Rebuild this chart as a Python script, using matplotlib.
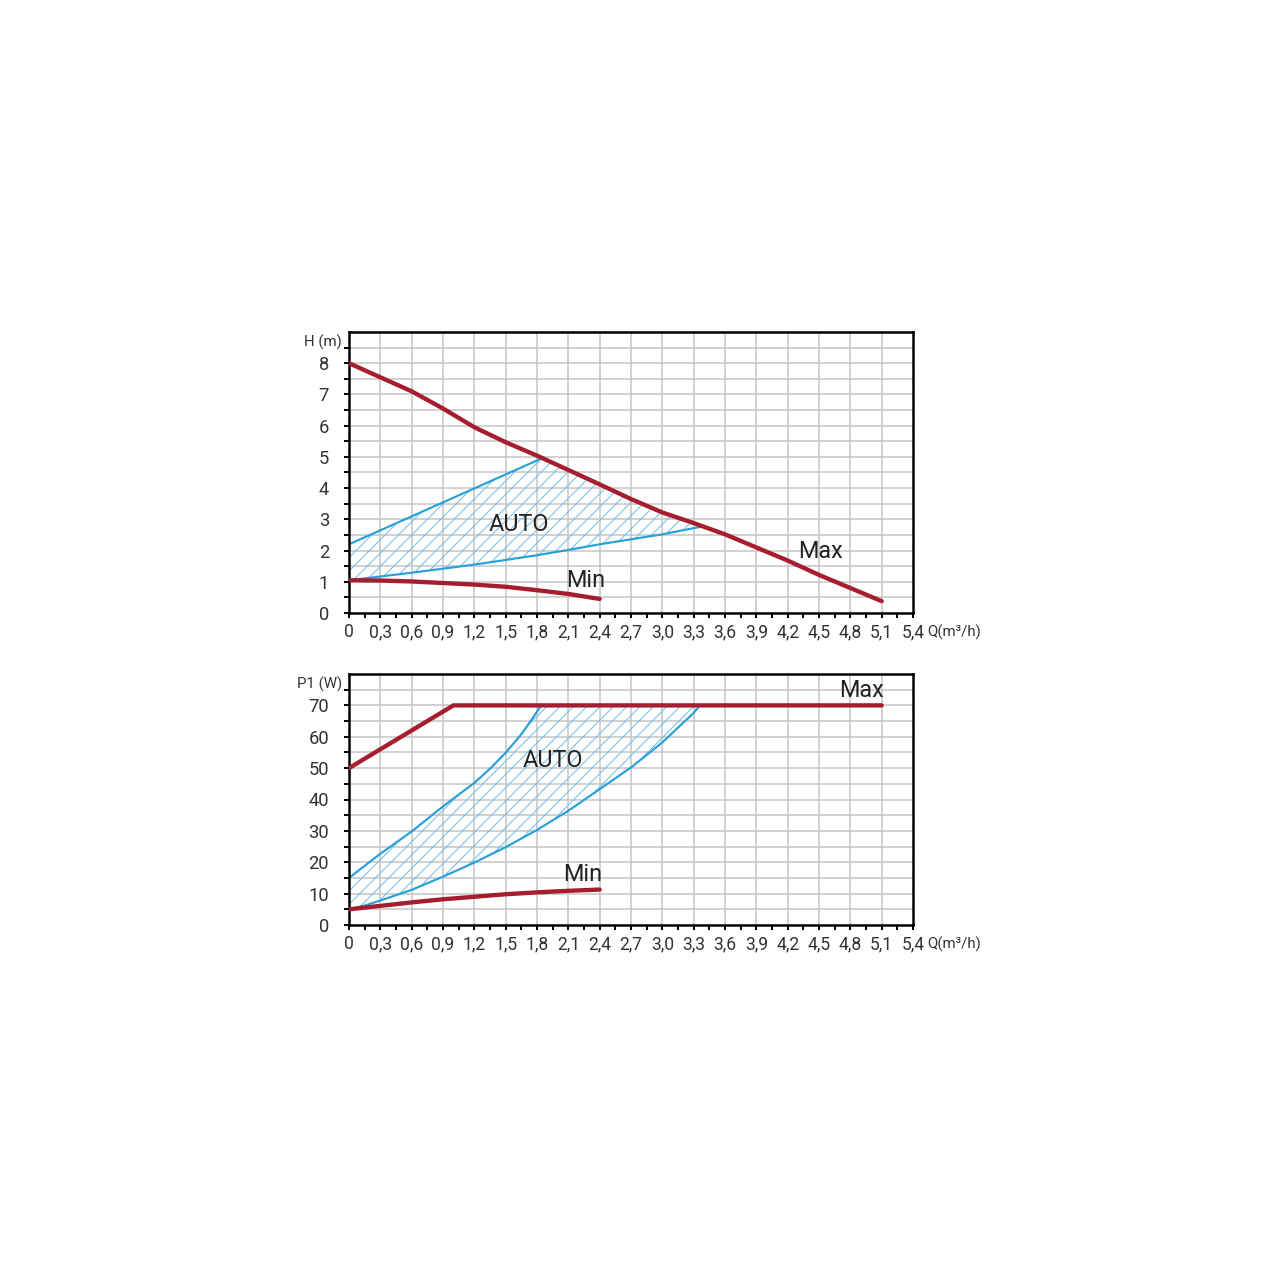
import matplotlib
matplotlib.use("Agg")
import matplotlib.pyplot as plt
import numpy as np

plt.rcParams['hatch.linewidth'] = 0.6

RED = '#a61e2d'
BLUE = '#2aa0d9'
HATCH = '#6cc0e6'
GRID = '#c4c4c4'
TXT = '#333333'

# --- head curves H(Q)
q_max_h = [0, 0.6, 0.9, 1.2, 1.5, 1.8, 2.1, 2.4, 2.7, 3.0, 3.3, 3.6, 3.9, 4.2, 4.5, 4.8, 5.1]
h_max = [8.0, 7.1, 6.55, 5.95, 5.47, 5.04, 4.58, 4.12, 3.65, 3.22, 2.88, 2.52, 2.1, 1.68, 1.22, 0.8, 0.38]
q_min_h = [0, 0.3, 0.6, 0.9, 1.2, 1.5, 1.8, 2.1, 2.4]
h_min = [1.05, 1.04, 1.01, 0.96, 0.91, 0.84, 0.73, 0.61, 0.45]
q_auto_hi = [0, 1.85]
h_auto_hi = [2.2, 4.96]
q_auto_lo = [0, 0.3, 0.6, 0.9, 1.2, 1.5, 1.8, 2.1, 2.4, 2.7, 3.0, 3.38]
h_auto_lo = [1.05, 1.17, 1.29, 1.42, 1.55, 1.7, 1.85, 2.02, 2.2, 2.36, 2.52, 2.77]

# --- power curves P1(Q)
q_max_p = [0, 1.0, 5.1]
p_max = [50, 70, 70]
q_min_p = [0, 0.3, 0.6, 0.9, 1.2, 1.5, 1.8, 2.1, 2.4]
p_min = [5, 6.1, 7.2, 8.2, 9.0, 9.8, 10.4, 10.9, 11.3]
q_auto_hi_p = [0, 0.3, 0.6, 0.9, 1.2, 1.35, 1.5, 1.65, 1.75, 1.84]
p_auto_hi = [15, 22.7, 29.8, 37.8, 45.3, 49.8, 54.9, 60.8, 65.5, 70]
q_auto_lo_p = [0, 0.15, 0.3, 0.6, 0.9, 1.2, 1.5, 1.8, 2.1, 2.4, 2.7, 3.0, 3.3, 3.36]
p_auto_lo = [5, 6.2, 7.8, 11.2, 15.4, 19.9, 24.8, 30.3, 36.4, 43.3, 50.2, 58.2, 67.6, 70]

xticks = np.round(np.arange(0, 5.41, 0.3), 1)
xlabels = ['0'] + [f'{v:.1f}'.replace('.', ',') for v in xticks[1:]]

FONT = dict(family=['Roboto', 'DejaVu Sans'])

fig = plt.figure(figsize=(1280 / 120, 1280 / 120), dpi=120)
ax1 = fig.add_axes([349 / 1280, 1 - 613 / 1280, 564 / 1280, 281 / 1280])
ax2 = fig.add_axes([349 / 1280, 1 - 925 / 1280, 564 / 1280, 251 / 1280])


def style_axes(ax, ymax, ystep, ylabel, h_px):
    ax.set_xlim(0, 5.4)
    ax.set_ylim(0, ymax)
    ax.set_xticks(xticks)
    ax.set_xticklabels(xlabels, color=TXT, fontsize=10.5, **FONT)
    ax.set_xticks(np.arange(0.15, 5.4, 0.3), minor=True)
    yt = np.arange(0, ymax - ystep / 2, ystep)
    ax.set_yticks(yt)
    ax.set_yticklabels([str(int(v)) for v in yt], color=TXT, fontsize=11, **FONT)
    ax.set_yticks(np.arange(ystep / 2, ymax, ystep / 2), minor=True)
    ax.tick_params(which='both', direction='out', length=3, width=1.2, color='black', pad=3)
    ax.tick_params(axis='y', which='major', pad=9)
    for v in np.arange(0.3, 5.3, 0.3):
        ax.axvline(v, color=GRID, lw=0.9, zorder=0)
    for v in np.arange(ystep / 2, ymax, ystep / 2):
        ax.axhline(v, color=GRID, lw=0.9, zorder=0)
    for s in ax.spines.values():
        s.set_linewidth(1.5)
        s.set_color('black')
    ax.text(-0.012, (ymax - ystep * 0.33) / ymax, ylabel, transform=ax.transAxes,
            ha='right', va='center', fontsize=9, color=TXT, **FONT)
    ax.text(1.026, -19 / h_px, 'Q(m³/h)',
            transform=ax.transAxes, ha='left', va='center', fontsize=9, color=TXT, **FONT)


style_axes(ax1, 9, 1, 'H (m)', 281)
style_axes(ax2, 80, 10, 'P1 (W)', 251)

# top chart: hatched AUTO zone
mid_q = [q for q in q_max_h if 1.85 < q < 3.38]
mid_h = [h for q, h in zip(q_max_h, h_max) if 1.85 < q < 3.38]
poly_q = q_auto_hi + mid_q + q_auto_lo[::-1]
poly_h = h_auto_hi + mid_h + h_auto_lo[::-1]
ax1.fill(poly_q, poly_h, facecolor='none', edgecolor=HATCH, hatch='///', lw=0, zorder=1)
ax1.plot(q_auto_hi, h_auto_hi, color=BLUE, lw=1.3, zorder=2)
ax1.plot(q_auto_lo, h_auto_lo, color=BLUE, lw=1.3, zorder=2)
ax1.plot(q_max_h, h_max, color=RED, lw=2.6, zorder=3, solid_capstyle='round')
ax1.plot(q_min_h, h_min, color=RED, lw=2.6, zorder=3, solid_capstyle='round')
ax1.text(1.63, 2.84, 'AUTO', fontsize=14, color='#222222', ha='center', va='center', **FONT)
ax1.text(2.27, 1.05, 'Min', fontsize=14, color='#222222', ha='center', va='center', **FONT)
ax1.text(4.51, 1.98, 'Max', fontsize=14, color='#222222', ha='center', va='center', **FONT)

# bottom chart: hatched AUTO zone
poly_q2 = q_auto_hi_p + q_auto_lo_p[::-1]
poly_p2 = p_auto_hi + p_auto_lo[::-1]
ax2.fill(poly_q2, poly_p2, facecolor='none', edgecolor=HATCH, hatch='///', lw=0, zorder=1)
ax2.plot(q_auto_hi_p, p_auto_hi, color=BLUE, lw=1.3, zorder=2)
ax2.plot(q_auto_lo_p, p_auto_lo, color=BLUE, lw=1.3, zorder=2)
ax2.plot(q_max_p, p_max, color=RED, lw=2.6, zorder=3, solid_capstyle='round')
ax2.plot(q_min_p, p_min, color=RED, lw=2.6, zorder=3, solid_capstyle='round')
ax2.text(1.95, 52.4, 'AUTO', fontsize=14, color='#222222', ha='center', va='center', **FONT)
ax2.text(2.24, 16, 'Min', fontsize=14, color='#222222', ha='center', va='center', **FONT)
ax2.text(4.91, 74.8, 'Max', fontsize=14, color='#222222', ha='center', va='center', **FONT)

fig.savefig('out.png', dpi=120, facecolor='white')
